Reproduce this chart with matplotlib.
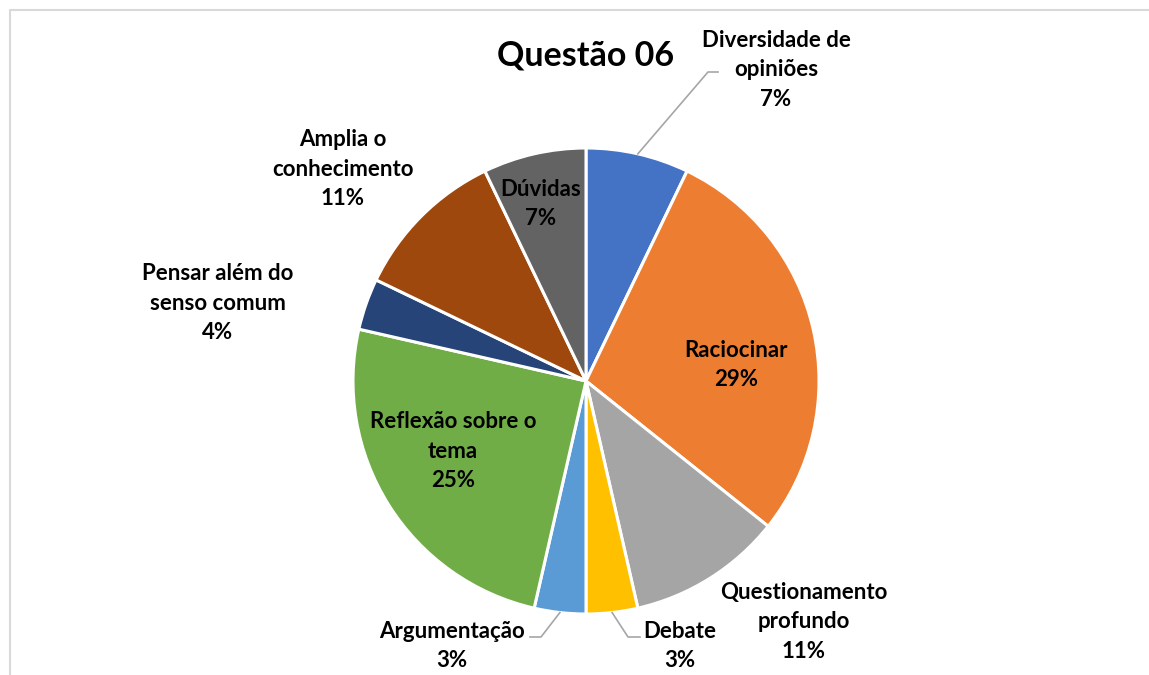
import numpy as np
import matplotlib.pyplot as plt

# dados do gráfico (sentido horário a partir do topo)
categorias = ["Diversidade de\nopiniões", "Raciocinar", "Questionamento\nprofundo", "Debate",
              "Argumentação", "Reflexão sobre o\ntema", "Pensar além do\nsenso comum",
              "Amplia o\nconhecimento", "Dúvidas"]
respostas = [2, 8, 3, 1, 1, 7, 1, 3, 2]          # tamanho das fatias
rotulos_pct = ["7%", "29%", "11%", "3%", "3%", "25%", "4%", "11%", "7%"]  # como aparecem
cores = ["#4472C4", "#ED7D31", "#A5A5A5", "#FFC000", "#5B9BD5",
         "#70AD47", "#264478", "#9E480E", "#636363"]
titulo = "Questão 06"

W, H = 1149, 675
CX, CY, R = 586, H - 381, 233

# posições dos rótulos (coordenadas de pixel, y a partir do topo)
pos_rotulos = [(776, 70), (736, 365), (804, 622), (680, 646), (452, 646),
               (453, 451), (218, 303), (343, 169), (541, 204)]
# linhas de chamada: índice -> (cotovelo, fim)
chamadas = {0: ((708, 72), (718, 72)),
            3: ((628, 637), (640, 637)),
            4: ((541, 637), (530, 637))}

plt.rcParams['font.family'] = ['Lato', 'DejaVu Sans']

fig = plt.figure(figsize=(W / 100, H / 100), dpi=100)
ax = fig.add_axes([0, 0, 1, 1])

# moldura cinza clara
ax.plot([10, 10, W + 5], [-5, H - 10, H - 10], color='#D9D9D9', lw=1.5, zorder=0)

ax.pie(respostas, colors=cores, startangle=90, counterclock=False,
       center=(CX, CY), radius=R, frame=True,
       wedgeprops=dict(edgecolor='white', linewidth=2.2))
ax.set_xlim(0, W)
ax.set_ylim(0, H)
ax.set_aspect('equal')
ax.axis('off')

fracs = np.array(respostas) / sum(respostas)
acum = np.concatenate([[0], np.cumsum(fracs)])
for i, (cat, pct) in enumerate(zip(categorias, rotulos_pct)):
    x, y = pos_rotulos[i]
    ax.text(x, H - y, f"{cat}\n{pct}", ha='center', va='center', fontsize=16,
            fontweight='bold', linespacing=1.5, color='black', zorder=5)
    if i in chamadas:
        ang = np.deg2rad(90 - (acum[i] + fracs[i] / 2) * 360)
        x0, y0 = CX + R * np.cos(ang), CY + R * np.sin(ang)
        (xm, ym), (xf, yf) = chamadas[i]
        ax.plot([x0, xm, xf], [y0, H - ym, H - yf], color='#A6A6A6', lw=1.2, zorder=4)

ax.text(586, H - 55, titulo, ha='center', va='center', fontsize=24.5, fontweight='bold')

fig.savefig('out.png', dpi=100)
